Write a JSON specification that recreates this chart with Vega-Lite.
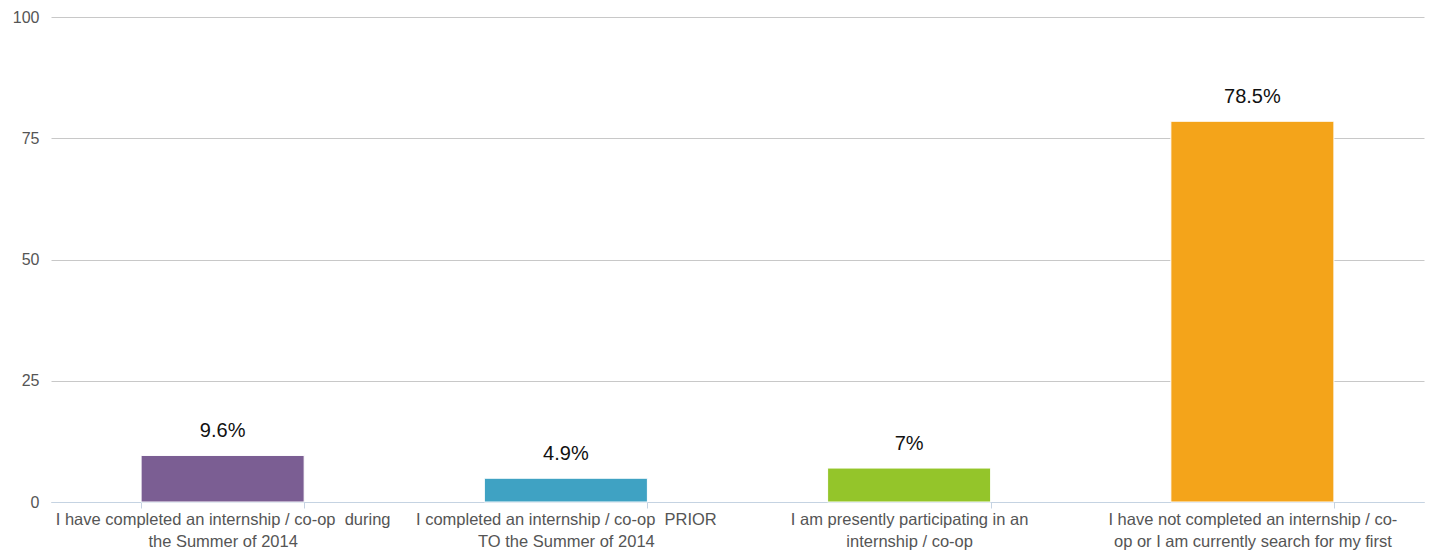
{
  "$schema": "https://vega.github.io/schema/vega-lite/v6.json",
  "autosize": {"type": "fit", "contains": "padding"},
  "width": 1429,
  "height": 550,
  "padding": {"left": 12, "top": 9, "right": 5, "bottom": 0},
  "background": "white",
  "config": {"view": {"stroke": null}, "font": "Liberation Sans"},
  "data": {
    "values": [
      {"k": "a", "value": 9.6, "label": "9.6%", "color": "#7B5E93"},
      {"k": "b", "value": 4.9, "label": "4.9%", "color": "#3FA2C3"},
      {"k": "c", "value": 7, "label": "7%", "color": "#94C52A"},
      {"k": "d", "value": 78.5, "label": "78.5%", "color": "#F4A41A"}
    ]
  },
  "encoding": {
    "x": {
      "field": "k",
      "type": "nominal",
      "sort": null,
      "scale": {"paddingInner": 0.525, "paddingOuter": 0.2625},
      "axis": {
        "title": null,
        "labelAngle": 0,
        "labelOverlap": false,
        "labelLimit": 0,
        "labelFontSize": 16.5,
        "labelColor": "#555555",
        "labelPadding": 3,
        "labelLineHeight": 22,
        "labelExpr": "datum.value == 'a' ? ['I have completed an internship / co-op \u00a0during', 'the Summer of 2014'] : datum.value == 'b' ? ['I completed an internship / co-op \u00a0PRIOR', 'TO the Summer of 2014'] : datum.value == 'c' ? ['I am presently participating in an', 'internship / co-op'] : datum.value == 'd' ? ['I have not completed an internship / co-', 'op or I am currently search for my first'] : ''",
        "domainColor": "#C5D3E2",
        "tickColor": "#C5D3E2",
        "tickBand": "extent",
        "tickSize": 6,
        "grid": false
      }
    },
    "y": {
      "field": "value",
      "type": "quantitative",
      "scale": {"domain": [0, 100]},
      "axis": {
        "title": null,
        "values": [0, 25, 50, 75, 100],
        "domain": false,
        "ticks": false,
        "labelFontSize": 16,
        "labelColor": "#555555",
        "labelPadding": 12,
        "gridColor": "#C8C8C8",
        "gridWidth": 1
      }
    }
  },
  "layer": [
    {
      "mark": {"type": "bar", "stroke": "white", "strokeWidth": 1},
      "encoding": {"color": {"field": "color", "type": "nominal", "scale": null}}
    },
    {
      "mark": {"type": "text", "dy": -14, "fontSize": 20, "color": "#111111", "baseline": "bottom"},
      "encoding": {"text": {"field": "label"}}
    }
  ]
}
